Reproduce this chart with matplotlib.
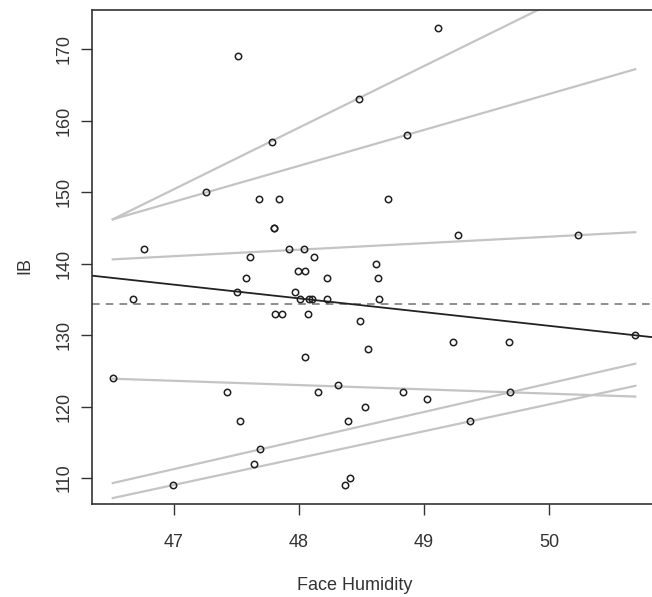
import matplotlib
matplotlib.use('Agg')
import matplotlib.pyplot as plt

plt.rcParams['font.family'] = ['Liberation Sans', 'DejaVu Sans']

# points
humidity = [46.51, 46.67, 46.76, 46.99, 47.26, 47.42, 47.50, 47.51, 47.53, 47.58,
            47.61, 47.64, 47.68, 47.69, 47.78, 47.80, 47.80, 47.81, 47.84, 47.86,
            47.92, 47.97, 47.99, 48.01, 48.04, 48.05, 48.05, 48.07, 48.08, 48.10,
            48.12, 48.15, 48.22, 48.22, 48.31, 48.37, 48.39, 48.41, 48.48, 48.49,
            48.53, 48.55, 48.62, 48.63, 48.64, 48.71, 48.83, 48.86, 49.02, 49.11,
            49.23, 49.27, 49.37, 49.68, 49.69, 50.23, 50.69]
ib = [124, 135, 142, 109, 150, 122, 136, 169, 118, 138,
      141, 112, 149, 114, 157, 145, 145, 133, 149, 133,
      142, 136, 139, 135, 142, 139, 127, 133, 135, 135,
      141, 122, 138, 135, 123, 109, 118, 110, 163, 132,
      120, 128, 140, 138, 135, 149, 122, 158, 121, 173,
      129, 144, 118, 129, 122, 144, 130]

# fitted line y = a + b*x, and mean line
fit_a, fit_b = 227.3, -1.92
ib_mean = 134.4

# grey lines drawn from min to max humidity: (y at left end, y at right end)
grey_lines = [(146.2, 182.2), (146.2, 167.2), (140.6, 144.4),
              (123.9, 121.4), (109.3, 126.0), (107.2, 122.9)]

x_ticks = [47, 48, 49, 50]
y_ticks = [110, 120, 130, 140, 150, 160, 170]

fig = plt.figure(figsize=(6.52, 5.97), dpi=100)
ax = fig.add_axes([92 / 652, 1 - 503.5 / 597, 564.5 / 652, 494 / 597])

x0, x1 = min(humidity), max(humidity)
for yl, yr in grey_lines:
    ax.plot([x0, x1], [yl, yr], color='#c4c4c4', lw=1.6, zorder=1)

ax.axhline(ib_mean, color='#707070', lw=1.1, ls=(0, (5, 4)), zorder=2)
ax.axline((46, fit_a + fit_b * 46), slope=fit_b, color='#222222', lw=1.3, zorder=2)

ax.plot(humidity, ib, 'o', ms=4.6, mfc='none', mec='#202020', mew=1.1, zorder=3)

ax.set_xlim(46.344, 50.86)
ax.set_ylim(106.44, 175.56)
ax.set_xticks(x_ticks)
ax.set_yticks(y_ticks)
ax.tick_params(length=8, width=1.0, color='#333333', labelsize=13, labelcolor='#333333')
ax.tick_params(axis='x', pad=14)
ax.tick_params(axis='y', pad=6)
for lab in ax.get_yticklabels():
    lab.set_rotation(90)
    lab.set_va('center')
for sp in ax.spines.values():
    sp.set_linewidth(1.2)
    sp.set_color('#333333')

fig.text(355 / 652, 1 - 585 / 597, 'Face Humidity', ha='center', va='center',
         fontsize=13, color='#333333')
fig.text(25 / 652, 1 - 265 / 597, 'IB', ha='center', va='center', rotation=90,
         fontsize=13, color='#333333')

fig.savefig('out.png', dpi=100)
